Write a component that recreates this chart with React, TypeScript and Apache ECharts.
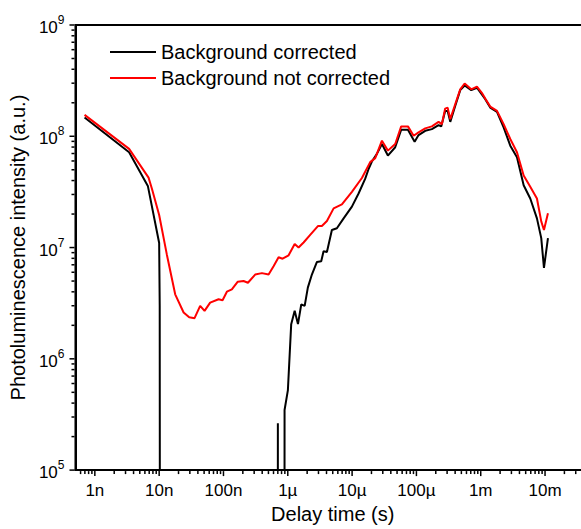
import React, { useEffect, useRef } from "react";
import * as echarts from "echarts";

// ---- data (time in s, intensity in a.u.) ----
const correctedCurve: [number, number][] = [
  [6.92e-10, 1.475e8], [3.41e-9, 7.19e7], [6.67e-9, 3.58e7], [1.0e-8, 1.1e7], [1.02e-8, 3.0e6],
  [1.04e-8, 1], [6.98e-7, 1], [7.01e-7, 2.64e5], [7.04e-7, 1], [8.85e-7, 1], [8.91e-7, 3.47e5],
  [1.004e-6, 5.24e5], [1.13e-6, 2.05e6], [1.28e-6, 2.7e6], [1.44e-6, 2.05e6], [1.62e-6, 3.09e6],
  [1.83e-6, 2.99e6], [2.05e-6, 4.36e6], [2.37e-6, 5.72e6], [2.84e-6, 7.43e6], [3.31e-6, 7.54e6],
  [3.6e-6, 9.25e6], [4.06e-6, 9.12e6], [4.85e-6, 1.44e7], [5.8e-6, 1.49e7], [7.38e-6, 1.83e7],
  [9.93e-6, 2.33e7], [1.26e-5, 3.06e7], [1.6e-5, 4.16e7], [1.81e-5, 5.11e7], [2.03e-5, 5.93e7],
  [2.43e-5, 6.95e7], [2.91e-5, 8.53e7], [3.6e-5, 6.71e7], [4.68e-5, 7.97e7], [5.8e-5, 1.144e8],
  [7.38e-5, 1.144e8], [9.38e-5, 8.94e7], [1.08e-4, 1.026e8], [1.37e-4, 1.12e8], [1.74e-4, 1.16e8],
  [2.21e-4, 1.26e8], [2.43e-4, 1.227e8], [2.8e-4, 1.69e8], [3.06e-4, 1.69e8], [3.36e-4, 1.348e8],
  [4.01e-4, 1.87e8], [4.8e-4, 2.6e8], [5.62e-4, 2.86e8], [7.12e-4, 2.6e8], [8.73e-4, 2.73e8],
  [1.04e-3, 2.38e8], [1.175e-3, 2.15e8], [1.405e-3, 1.81e8], [1.79e-3, 1.655e8], [2.27e-3, 1.2e8],
  [2.88e-3, 8.24e7], [3.66e-3, 6.49e7], [4.65e-3, 3.63e7], [5.89e-3, 2.76e7], [7.48e-3, 1.83e7],
  [8.73e-3, 1.215e7], [9.62e-3, 6.57e6], [1.11e-2, 1.215e7],
];

const notCorrectedCurve: [number, number][] = [
  [6.92e-10, 1.556e8], [3.41e-9, 7.7e7], [6.84e-9, 4.25e7], [7.7e-9, 3.39e7], [1.0e-8, 1.96e7],
  [1.318e-8, 8.63e6], [1.775e-8, 3.8e6], [2.4e-8, 2.61e6], [2.93e-8, 2.36e6], [3.55e-8, 2.32e6],
  [4.34e-8, 2.99e6], [5.08e-8, 2.7e6], [6.21e-8, 3.2e6], [8.39e-8, 3.43e6], [9.68e-8, 3.36e6],
  [1.13e-7, 4.01e6], [1.35e-7, 4.21e6], [1.67e-7, 4.93e6], [2.05e-7, 5.0e6], [2.4e-7, 4.83e6],
  [3.11e-7, 5.72e6], [3.96e-7, 5.89e6], [5.03e-7, 5.72e6], [6.01e-7, 6.8e6], [7.19e-7, 8.18e6],
  [8.3e-7, 7.94e6], [1.03e-6, 8.52e6], [1.28e-6, 1.075e7], [1.47e-6, 1.0e7], [1.76e-6, 1.11e7],
  [2.23e-6, 1.3e7], [2.94e-6, 1.56e7], [3.39e-6, 1.56e7], [4.06e-6, 1.73e7], [5.16e-6, 2.25e7],
  [6.94e-6, 2.44e7], [9.93e-6, 3.17e7], [1.42e-5, 4.22e7], [1.91e-5, 5.86e7], [2.29e-5, 6.36e7],
  [2.91e-5, 9.13e7], [3.6e-5, 7.43e7], [4.68e-5, 8.53e7], [5.8e-5, 1.227e8], [7.38e-5, 1.227e8],
  [9.05e-5, 1.011e8], [1.08e-4, 1.084e8], [1.37e-4, 1.177e8], [1.74e-4, 1.227e8], [2.21e-4, 1.348e8],
  [2.49e-4, 1.286e8], [2.8e-4, 1.774e8], [3.06e-4, 1.81e8], [3.36e-4, 1.425e8], [4.01e-4, 1.94e8],
  [4.8e-4, 2.64e8], [5.62e-4, 2.98e8], [7.12e-4, 2.64e8], [8.73e-4, 2.79e8], [1.04e-3, 2.46e8],
  [1.175e-3, 2.18e8], [1.405e-3, 1.85e8], [1.79e-3, 1.69e8], [2.27e-3, 1.286e8], [2.88e-3, 9.45e7],
  [3.66e-3, 7.19e7], [4.65e-3, 4.45e7], [5.89e-3, 3.51e7], [7.48e-3, 2.76e7], [8.73e-3, 1.72e7],
  [9.62e-3, 1.44e7], [1.11e-2, 2.03e7],
];

const seriesNames = ["Background corrected", "Background not corrected"];
const xTickValues = [1e-9, 1e-8, 1e-7, 1e-6, 1e-5, 1e-4, 1e-3, 1e-2];
const xTickLabels = ["1n", "10n", "100n", "1µ", "10µ", "100µ", "1m", "10m"];
const yTickValues = [1e5, 1e6, 1e7, 1e8, 1e9];
const X_MIN = 5e-10;
const X_MAX = 5e-2;
const Y_MIN = 1e5;
const Y_MAX = 1e9;

const FONT = '"Liberation Sans", Arial, Helvetica, sans-serif';

function logTicks(min: number, max: number, majors: number[]) {
  const out: [number, number][] = [];
  const lo = Math.floor(Math.log10(min)) - 1;
  const hi = Math.ceil(Math.log10(max));
  for (let k = lo; k <= hi; k++) {
    for (let m = 2; m <= 9; m++) {
      const v = m * Math.pow(10, k);
      if (v > min && v < max) out.push([v, 0]);
    }
  }
  majors.forEach((v) => out.push([v, 1]));
  return out;
}

export default function App() {
  const ref = useRef<HTMLDivElement>(null);
  useEffect(() => {
    if (!ref.current) return;
    const chart = echarts.init(ref.current, null, { renderer: "svg" });
    const xTicks = logTicks(X_MIN, X_MAX, xTickValues).map(([v, m]) => [v, Y_MIN, m]);
    const yTicks = logTicks(Y_MIN, Y_MAX, yTickValues).map(([v, m]) => [X_MIN, v, m]);
    const labelFor = (v: number) => {
      const e = Math.log10(v);
      const r = Math.round(e);
      if (Math.abs(e - r) > 1e-6) return "";
      const idx = xTickValues.findIndex((t) => Math.abs(Math.log10(t) - r) < 1e-6);
      return idx >= 0 ? xTickLabels[idx] : "";
    };
    chart.setOption({
      animation: false,
      backgroundColor: "#fff",
      textStyle: { fontFamily: FONT },
      grid: {
        left: 73,
        top: 25,
        right: 10,
        bottom: 55,
        show: true,
        borderColor: "#000",
        borderWidth: 2,
        backgroundColor: "transparent",
      },
      legend: {
        data: seriesNames.map((n) => ({ name: n, icon: "rect" })),
        orient: "vertical",
        left: 110,
        top: 42,
        padding: 0,
        itemWidth: 46,
        itemHeight: 2,
        itemGap: 6,
        textStyle: { fontSize: 20, lineHeight: 20, color: "#000", fontFamily: FONT },
      },
      xAxis: {
        type: "log",
        logBase: 10,
        min: X_MIN,
        max: X_MAX,
        name: "Delay time (s)",
        nameLocation: "middle",
        nameGap: 30,
        nameTextStyle: { fontSize: 20, color: "#000", fontFamily: FONT },
        axisLine: { show: true, lineStyle: { color: "#000", width: 2 } },
        axisTick: { show: false },
        splitLine: { show: false },
        axisLabel: {
          showMinLabel: false,
          showMaxLabel: false,
          margin: 12,
          fontSize: 17,
          color: "#000",
          fontFamily: FONT,
          formatter: (v: number) => labelFor(v),
        },
      },
      yAxis: {
        type: "log",
        logBase: 10,
        min: Y_MIN,
        max: Y_MAX,
        name: "Photoluminescence intensity (a.u.)",
        nameLocation: "middle",
        nameGap: 43,
        nameTextStyle: { fontSize: 20, color: "#000", fontFamily: FONT },
        axisLine: { show: true, lineStyle: { color: "#000", width: 2 } },
        axisTick: { show: false },
        splitLine: { show: false },
        axisLabel: {
          margin: 11,
          formatter: (v: number) => `{b|10}{s|${Math.round(Math.log10(v))}}`,
          rich: {
            b: { fontSize: 17, lineHeight: 22, verticalAlign: "bottom", color: "#000", fontFamily: FONT },
            s: { fontSize: 12, lineHeight: 12, verticalAlign: "top", color: "#000", fontFamily: FONT },
          },
        },
      },
      series: [
        {
          name: seriesNames[0],
          type: "line",
          data: correctedCurve,
          symbol: "none",
          showSymbol: false,
          clip: true,
          lineStyle: { color: "#000", width: 2 },
          itemStyle: { color: "#000" },
          z: 2,
        },
        {
          name: seriesNames[1],
          type: "line",
          data: notCorrectedCurve,
          symbol: "none",
          showSymbol: false,
          clip: true,
          lineStyle: { color: "#ff0000", width: 2 },
          itemStyle: { color: "#ff0000" },
          z: 3,
        },
        {
          type: "custom",
          silent: true,
          clip: false,
          data: xTicks,
          encode: { x: 0, y: 1 },
          z: 5,
          renderItem: (params: any, api: any) => {
            const p = api.coord([api.value(0), api.value(1)]);
            const len = api.value(2) ? 5 : 3;
            return {
              type: "line",
              shape: { x1: p[0], y1: p[1] + 1, x2: p[0], y2: p[1] + 1 + len },
              style: { stroke: "#000", lineWidth: 1.5 },
            };
          },
        },
        {
          type: "custom",
          silent: true,
          clip: false,
          data: yTicks,
          encode: { x: 0, y: 1 },
          z: 5,
          renderItem: (params: any, api: any) => {
            const p = api.coord([api.value(0), api.value(1)]);
            const len = api.value(2) ? 5 : 3;
            return {
              type: "line",
              shape: { x1: p[0] - 1, y1: p[1], x2: p[0] - 1 - len, y2: p[1] },
              style: { stroke: "#000", lineWidth: 1.5 },
            };
          },
        },
      ],
    });
    return () => chart.dispose();
  }, []);
  return (
    <div
      style={{
        position: "fixed",
        left: 0,
        top: 0,
        width: 581,
        height: 529,
        overflow: "hidden",
        background: "#fff",
      }}
    >
      <div ref={ref} style={{ width: 600, height: 529 }} />
    </div>
  );
}
